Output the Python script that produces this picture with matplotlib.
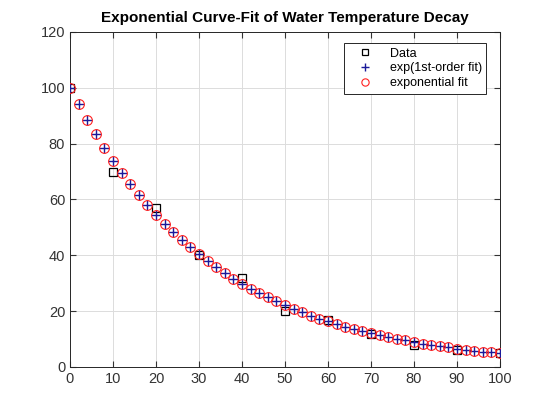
import matplotlib
matplotlib.use("Agg")
import matplotlib.pyplot as plt

# measured water temperature samples
t_data = [0, 10, 20, 30, 40, 50, 60, 70, 80, 90, 100]
temp_data = [100, 70, 57, 40, 32, 20, 17, 12, 8, 6, 5]

t_fit = list(range(0, 101, 2))
temp_fit = [100.0, 94.1, 88.6, 83.4, 78.5, 73.9, 69.6, 65.5, 61.7, 58.1,
            54.6, 51.4, 48.4, 45.6, 42.9, 40.4, 38.0, 35.8, 33.7, 31.7,
            29.9, 28.1, 26.5, 24.9, 23.5, 22.1, 20.8, 19.6, 18.4, 17.3,
            16.3, 15.4, 14.5, 13.6, 12.8, 12.1, 11.4, 10.7, 10.1, 9.5,
            8.9, 8.4, 7.9, 7.4, 7.0, 6.6, 6.2, 5.8, 5.5, 5.2, 4.9]

legend_labels = ["Data", "exp(1st-order fit)", "exponential fit"]

plt.rcParams["font.family"] = ["Liberation Sans", "DejaVu Sans"]

fig = plt.figure(figsize=(5.5, 4.13), dpi=100)
ax = fig.add_axes([70 / 550, 1 - 367 / 413, 430 / 550, 335 / 413])

ax.plot(t_data, temp_data, "s", mfc="none", mec="black", ms=6, mew=0.9,
        label=legend_labels[0], zorder=3)
ax.plot(t_fit, temp_fit, "+", color="#1a1a9a", ms=7, mew=1.0,
        label=legend_labels[1], zorder=4)
ax.plot(t_fit, temp_fit, "o", mfc="none", mec="#ff2020", ms=7, mew=0.8,
        label=legend_labels[2], zorder=5)

ax.set_xlim(0, 100)
ax.set_ylim(0, 120)
ax.set_xticks(range(0, 101, 10))
ax.set_yticks(range(0, 121, 20))
ax.grid(True, color="#dcdcdc", linewidth=0.7)
ax.set_axisbelow(True)
ax.tick_params(direction="in", length=4, labelsize=10.5, colors="#333333",
               top=True, right=True)
for s in ax.spines.values():
    s.set_color("#262626")
    s.set_linewidth(0.7)

ax.set_title("Exponential Curve-Fit of Water Temperature Decay",
             fontsize=11, fontweight="bold", pad=7)

leg = ax.legend(loc="upper right", bbox_to_anchor=(0.983, 0.985), fontsize=9,
                fancybox=False, framealpha=1, edgecolor="#262626",
                markerscale=0.75, handlelength=2.6, handletextpad=0.7,
                borderpad=0.35, labelspacing=0.22)
leg.get_frame().set_linewidth(0.7)

fig.savefig("out.png", dpi=100)
